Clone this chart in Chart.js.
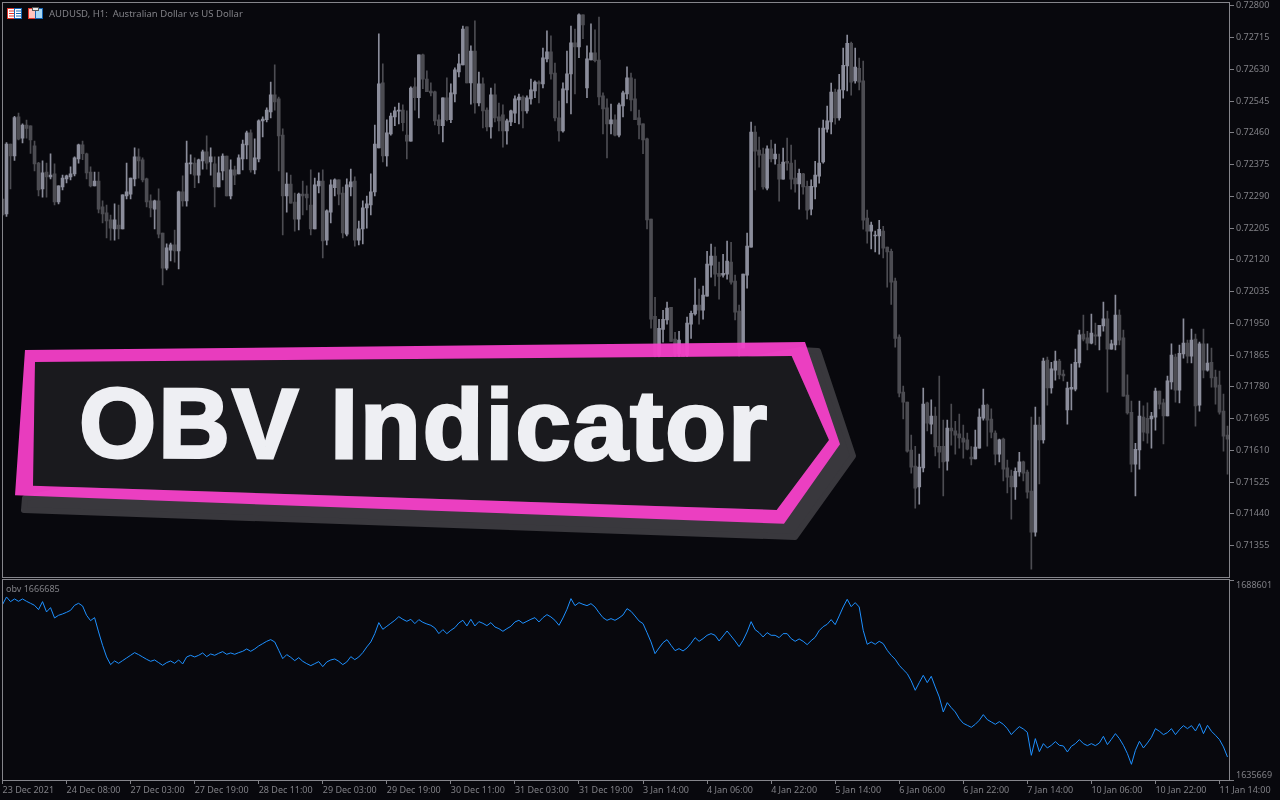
<!DOCTYPE html>
<html>
<head>
<meta charset="utf-8">
<title>AUDUSD H1 with OBV</title>
<script src="https://cdn.jsdelivr.net/npm/chart.js@4/dist/chart.umd.min.js"></script>
<style>
  html, body { margin: 0; padding: 0; background: #08080d; overflow: hidden; }
  #stage { position: relative; width: 1280px; height: 800px; background: #08080d; font-family: 'Noto Sans', sans-serif; }
  canvas { position: absolute; left: 0; }
  #chart-price { top: 0; }
  #chart-obv { top: 578px; }
  .frame { position: absolute; border: 1px solid #85858b; box-sizing: border-box; pointer-events: none; }
  #frame-price { left: 2px; top: 2px; width: 1228px; height: 576px; }
  #frame-obv { left: 2px; top: 579px; width: 1228px; height: 202px; }
  .caption { position: absolute; color: #808086; font-size: 9px; line-height: 11px; white-space: pre; }
  #caption-symbol { left: 49px; top: 8px; font-size: 9.5px; }
  #caption-obv { left: 6px; top: 583px; }
  svg { position: absolute; left: 0; top: 0; pointer-events: none; }
</style>
</head>
<body>
<div id="stage">
  <canvas id="chart-price" width="1280" height="578"></canvas>
  <canvas id="chart-obv" width="1280" height="222"></canvas>
  <div class="frame" id="frame-price"></div>
  <div class="frame" id="frame-obv"></div>
  <div class="caption" id="caption-symbol">AUDUSD, H1:  Australian Dollar vs US Dollar</div>
  <div class="caption" id="caption-obv">obv 1666685</div>
  <svg width="1280" height="800">
    <!-- toolbar icons -->
    <rect x="7.5" y="8.5" width="7" height="10" fill="#fff" stroke="#e0352b"/>
    <rect x="14.5" y="8.5" width="7" height="10" fill="#fff" stroke="#1464b4"/>
    <path d="M9 11h5M9 13.5h5M9 16h5" stroke="#e0352b"/>
    <path d="M16 11h5M16 13.5h5M16 16h5" stroke="#1464b4"/>
    <rect x="28.5" y="8.5" width="7" height="10" fill="#ffc4bd" stroke="#e0352b"/>
    <rect x="35.5" y="8.5" width="7" height="10" fill="#a8d8f5" stroke="#1464b4"/>
    <rect x="32.5" y="7.5" width="6" height="3" fill="#e8e8e8" stroke="#555"/>
    <!-- banner -->
    <path d="M25 498 L24 510 L795 537 L853 456 L818 351 L800 350 Z" fill="#39383d" stroke="#39383d" stroke-width="6" stroke-linejoin="round"/>
    <path d="M35 362 L791.7 356 L829 440 L776.7 510 L33 485.7 Z" fill="#1a1a1e"/>
    <path fill-rule="evenodd" fill="#f43fc8" fill-opacity="0.95" d="M25 350 L805 342 L840 444.3 L784 523.7 L15 495.3 Z M35 362 L791.7 356 L829 440 L776.7 510 L33 485.7 Z"/>
    <text x="79" y="457" transform="rotate(0.25 79 457)" font-family="'Liberation Sans', Arial, sans-serif" font-weight="700" font-size="99" letter-spacing="2.3" fill="#eeeff3" stroke="#eeeff3" stroke-width="3" stroke-linejoin="miter">OBV Indicator</text>
  </svg>
</div>
<script>
const BAR_UP   = '#8b8d9b'
const BAR_DOWN = '#4c4c52'
const OBV_LINE = '#1e90ff'
const TEXT     = '#808086'
const LAST_X   = 306.625
const TICK_EVERY = 16

// prices in points (1 point = 0.00001), one bar per hour.
// The bars around 3 Jan sit partly behind the banner, so their lower ends are guesses.
const open = [
  72283,72243,72430,72398,72503,72446,72481,72479,72425,72379,
  72310,72355,72342,72350,72275,72315,72337,72342,72350,72390,
  72428,72404,72355,72318,72331,72262,72246,72227,72203,72213,
  72203,72291,72296,72337,72396,72388,72337,72278,72256,72278,
  72192,72098,72146,72160,72144,72302,72278,72377,72379,72347,
  72385,72409,72382,72377,72315,72358,72398,72291,72361,72350,
  72390,72428,72460,72361,72390,72492,72495,72516,72562,72551,
  72454,72291,72323,72275,72229,72296,72296,72267,72203,72318,
  72331,72173,72248,72313,72334,72299,72189,72315,72331,72173,
  72203,72259,72267,72302,72420,72594,72398,72457,72503,72518,
  72521,72454,72438,72583,72554,72669,72604,72572,72570,72495,
  72479,72554,72495,72564,72623,72642,72744,72594,72679,72540,
  72591,72521,72476,72562,72503,72508,72465,72489,72513,72548,
  72556,72519,72551,72572,72596,72591,72658,72677,72620,72500,
  72465,72575,72618,72701,72690,72776,72580,72655,72674,72655,
  72559,72527,72484,72495,72454,72532,72564,72607,72551,72500,
  72484,72444,72229,71969,71865,71934,71959,71993,71908,71869,
  71887,71865,71948,71975,71999,71985,72023,72106,72130,72084,
  72079,72082,72114,72063,71983,71884,72079,72154,72462,72414,
  72403,72312,72417,72390,72376,72336,72384,72379,72339,72323,
  72350,72317,72256,72315,72344,72382,72470,72489,72569,72500,
  72575,72639,72700,72599,72633,72599,72232,72197,72184,72184,
  72197,72154,72143,72063,71913,71766,71739,71611,71568,71512,
  71563,71737,71680,71702,71621,71621,71581,71670,71662,71654,
  71643,71638,71592,71587,71616,71696,71731,71694,71656,71600,
  71640,71563,71541,71512,71552,71579,71552,71501,71391,71678,
  71638,71852,71777,71825,71849,71814,71718,71774,71774,71844,
  71921,71911,71897,71919,71916,71943,71962,71881,71892,71972,
  71911,71758,71712,71573,71611,71699,71696,71694,71699,71769,
  71737,71702,71793,71860,71771,71868,71897,71862,71908,71731,
  71895,71825,71846,71806,71785,71715,71651
]
const high = [
  72283,72434,72430,72504,72513,72484,72494,72479,72438,72381,
  72385,72379,72404,72377,72318,72347,72347,72369,72396,72430,
  72438,72406,72369,72355,72355,72278,72267,72240,72270,72267,
  72294,72379,72339,72420,72417,72393,72339,72294,72280,72310,
  72192,72163,72165,72200,72304,72345,72438,72401,72393,72390,
  72414,72452,72420,72396,72396,72404,72398,72388,72371,72401,
  72441,72465,72468,72444,72495,72503,72527,72596,72642,72556,
  72471,72353,72347,72299,72299,72331,72318,72361,72339,72353,
  72361,72254,72334,72337,72334,72315,72337,72363,72342,72224,
  72278,72291,72350,72481,72725,72645,72495,72513,72529,72540,
  72535,72519,72583,72607,72669,72671,72626,72594,72572,72508,
  72554,72607,72591,72634,72671,72746,72744,72693,72760,72623,
  72607,72527,72580,72591,72540,72535,72497,72521,72559,72564,
  72559,72559,72604,72599,72599,72687,72733,72720,72647,72545,
  72594,72679,72746,72738,72779,72776,72693,72752,72736,72770,
  72567,72551,72537,72508,72540,72572,72637,72620,72604,72521,
  72484,72446,72229,72020,71961,71985,72007,71993,71926,71929,
  71892,71967,71983,72071,72042,72050,72143,72162,72154,72114,
  72135,72170,72167,72079,71999,72082,72192,72489,72478,72449,
  72419,72425,72441,72430,72403,72419,72446,72427,72387,72363,
  72352,72331,72334,72384,72473,72494,72532,72593,72577,72617,
  72687,72722,72703,72687,72660,72652,72253,72221,72197,72226,
  72210,72154,72149,72071,71919,71782,71739,71651,71621,71600,
  71777,71739,71745,71726,71809,71691,71691,71734,71688,71707,
  71678,71656,71620,71664,71721,71774,71734,71721,71662,71640,
  71643,71584,71557,71563,71605,71581,71557,71699,71726,71699,
  71857,71860,71846,71876,71854,71825,71793,71841,71881,71932,
  71972,71929,71975,71951,71945,72007,71983,71905,72026,71986,
  71932,71812,71742,71629,71742,71729,71737,71712,71777,71769,
  71747,71809,71895,71868,71892,71962,71905,71935,71921,71900,
  71935,71895,71884,71825,71822,71761,71675
]
const low = [
  72240,72236,72310,72386,72441,72433,72446,72405,72358,72291,
  72288,72288,72337,72267,72270,72307,72326,72334,72345,72379,
  72388,72337,72315,72318,72246,72219,72179,72173,72173,72176,
  72203,72283,72283,72318,72339,72329,72262,72235,72203,72179,
  72053,72093,72117,72114,72096,72264,72264,72350,72313,72326,
  72363,72363,72347,72262,72315,72334,72291,72283,72321,72350,
  72361,72390,72355,72350,72382,72449,72489,72500,72521,72358,
  72187,72248,72272,72197,72200,72240,72254,72187,72203,72299,
  72125,72160,72219,72291,72267,72179,72184,72291,72157,72160,
  72163,72205,72240,72291,72420,72382,72371,72454,72479,72484,
  72465,72390,72438,72521,72500,72578,72570,72559,72481,72457,
  72436,72492,72487,72543,72610,72642,72594,72537,72513,72532,
  72473,72465,72446,72489,72465,72422,72430,72479,72487,72484,
  72473,72513,72537,72554,72540,72580,72650,72604,72492,72438,
  72462,72540,72511,72564,72661,72712,72554,72655,72650,72535,
  72457,72393,72457,72452,72449,72503,72551,72519,72495,72444,
  72404,72203,71937,71834,71834,71900,71948,71902,71834,71834,
  71825,71834,71910,71972,71948,71961,72023,72074,72050,72015,
  72074,72068,72055,71959,71860,71884,72044,72154,72307,72368,
  72309,72307,72382,72376,72277,72336,72360,72309,72301,72256,
  72296,72229,72240,72283,72325,72379,72462,72457,72483,72494,
  72553,72572,72561,72593,72575,72202,72165,72149,72141,72135,
  72125,72047,72001,71886,71753,71694,71605,71549,71455,71466,
  71552,71662,71654,71595,71563,71488,71557,71624,71600,71616,
  71589,71611,71571,71587,71616,71691,71621,71643,71571,71579,
  71528,71496,71426,71479,71541,71528,71482,71292,71380,71520,
  71629,71731,71763,71798,71801,71796,71680,71718,71769,71833,
  71903,71879,71895,71892,71879,71929,71766,71881,71879,71892,
  71755,71707,71552,71488,71560,71635,71629,71616,71664,71721,
  71627,71702,71774,71739,71737,71857,71844,71844,71675,71715,
  71804,71822,71779,71734,71707,71608,71546
]
const close = [
  72240,72430,72398,72501,72443,72481,72472,72441,72377,72307,
  72353,72342,72347,72275,72318,72339,72345,72350,72393,72428,
  72404,72353,72318,72331,72256,72243,72224,72205,72227,72203,
  72294,72302,72339,72396,72385,72334,72275,72259,72278,72189,
  72098,72152,72160,72144,72302,72278,72379,72379,72347,72388,
  72409,72379,72396,72315,72353,72398,72291,72361,72347,72393,
  72430,72460,72361,72393,72492,72497,72521,72562,72543,72452,
  72291,72323,72272,72229,72296,72291,72286,72203,72321,72331,
  72171,72251,72321,72334,72296,72192,72321,72329,72173,72203,
  72259,72270,72302,72430,72591,72398,72460,72505,72519,72521,
  72487,72438,72580,72554,72669,72604,72570,72567,72492,72479,
  72554,72495,72567,72629,72645,72738,72594,72679,72540,72591,
  72519,72476,72562,72500,72492,72465,72492,72519,72551,72556,
  72519,72554,72575,72596,72591,72661,72677,72618,72500,72465,
  72578,72618,72701,72690,72776,72749,72658,72674,72653,72556,
  72524,72484,72495,72454,72535,72567,72607,72548,72495,72481,
  72441,72227,71961,71865,71937,71961,71991,71902,71869,71905,
  71851,71951,71977,71999,71985,72026,72109,72130,72082,72076,
  72084,72117,72060,71980,71883,72082,72157,72462,72411,72400,
  72315,72417,72390,72403,72336,72382,72379,72336,72323,72352,
  72315,72253,72317,72347,72379,72473,72492,72569,72500,72575,
  72641,72700,72596,72636,72596,72226,72197,72213,72186,72202,
  72151,72141,72060,71910,71763,71739,71608,71565,71509,71565,
  71734,71683,71702,71619,71605,71579,71670,71662,71651,71643,
  71632,71613,71587,71619,71699,71731,71691,71659,71600,71638,
  71560,71538,71512,71554,71579,71549,71498,71391,71678,71638,
  71849,71777,71828,71849,71812,71809,71777,71779,71846,71919,
  71908,71897,71924,71916,71945,71962,71881,71895,71972,71905,
  71755,71710,71573,71613,71702,71659,71656,71702,71769,71734,
  71702,71796,71865,71771,71870,71897,71862,71905,71729,71895,
  71825,71844,71804,71779,71712,71648,71640
]
const obv = [
  1682082,1684111,1682876,1683581,1682964,1683581,1682964,1682435,1681905,1680758,
  1682876,1680141,1681288,1678553,1679259,1679611,1680053,1680582,1681905,1682435,
  1681729,1679259,1677847,1678641,1674848,1671319,1668231,1666202,1667172,1666555,
  1667261,1667966,1668672,1669378,1668849,1668231,1667614,1667084,1667437,1666731,
  1666026,1666731,1667172,1666555,1667437,1666378,1668231,1668672,1668231,1668672,
  1669290,1668319,1669025,1668672,1669202,1669643,1668937,1669290,1668937,1669378,
  1669731,1670348,1669731,1670348,1671142,1671760,1672377,1672819,1672201,1669995,
  1667790,1668849,1668143,1667261,1668055,1667084,1666467,1665937,1666467,1666996,
  1665673,1666908,1667437,1667702,1667084,1666202,1666908,1668319,1667525,1668231,
  1669378,1670878,1672201,1674406,1677318,1675553,1676347,1677141,1677935,1678906,
  1678200,1677671,1678200,1677053,1678112,1677406,1676965,1676612,1675906,1674406,
  1675465,1674406,1675289,1675994,1677230,1677935,1676436,1678200,1676436,1677582,
  1677141,1676524,1677318,1676171,1675730,1675024,1675730,1676347,1677494,1677935,
  1677141,1677671,1678200,1678641,1677494,1678641,1679435,1678817,1677935,1676612,
  1678553,1680847,1683670,1681817,1682611,1682170,1681817,1682346,1681464,1679964,
  1678641,1677935,1678376,1677935,1678553,1679347,1681023,1680317,1679082,1677759,
  1677053,1674671,1672201,1669113,1670613,1672025,1672819,1671319,1669907,1670437,
  1669819,1670613,1671848,1673348,1672377,1673083,1673965,1674406,1673965,1672466,
  1673789,1675112,1673789,1672466,1670966,1672642,1674848,1677582,1675465,1674671,
  1673524,1674671,1673965,1673965,1673348,1674406,1674406,1673083,1672377,1672995,
  1672377,1671495,1672554,1673436,1675200,1676259,1676877,1678112,1676788,1679082,
  1681464,1683493,1681552,1682611,1681464,1675289,1671583,1672201,1671583,1672377,
  1671760,1669995,1668672,1667614,1666026,1664879,1663820,1661879,1659409,1661438,
  1663379,1661438,1663114,1660291,1657645,1653675,1656145,1654822,1653675,1651910,
  1650675,1650146,1649617,1650411,1651469,1652969,1651646,1651028,1650411,1651116,
  1650411,1649264,1647676,1648823,1649793,1649176,1648293,1642206,1646617,1643177,
  1645294,1644147,1644853,1645823,1644853,1644676,1643088,1644588,1645294,1646353,
  1645294,1644765,1645294,1644765,1645470,1647235,1645029,1646441,1647940,1646617,
  1644853,1642647,1639824,1643529,1645911,1644147,1645470,1646970,1649264,1648558,
  1647676,1648205,1649264,1647676,1648999,1650058,1649264,1650058,1648646,1650587,
  1647940,1650146,1648558,1647499,1646353,1644412,1641765
]

const priceTicks = [72800,72715,72630,72545,72460,72375,72290,72205,72120,72035,71950,71865,71780,71695,71610,71525,71440,71355]
const priceMin = 71271
const priceMax = 72809
const obvMax = 1688601
const obvMin = 1635669
const timeLabels = [
  '23 Dec 2021','24 Dec 08:00','27 Dec 03:00','27 Dec 19:00','28 Dec 11:00','29 Dec 03:00','29 Dec 19:00',
  '30 Dec 11:00','31 Dec 03:00','31 Dec 19:00','3 Jan 14:00','4 Jan 06:00','4 Jan 22:00','5 Jan 14:00',
  '6 Jan 06:00','6 Jan 22:00','7 Jan 14:00','10 Jan 06:00','10 Jan 22:00','11 Jan 14:00'
]

const axisFont = { family: "'Noto Sans', sans-serif", size: 9, lineHeight: '10px' }
const barColors = open.map((o, i) => close[i] >= o ? BAR_UP : BAR_DOWN)

const baseOptions = (padding, scales) => ({
  responsive: false,
  animation: false,
  layout: { padding },
  plugins: { legend: { display: false }, tooltip: { enabled: false } },
  scales
})

// the layout would otherwise shrink the plot to make room for the end labels
const rightAxis = (min, max, ticks, format) => ({
  position: 'right',
  min,
  max,
  afterFit: s => { s.width = 50; s.paddingTop = 0; s.paddingBottom = 0 },
  afterBuildTicks: s => { s.ticks = ticks.map(value => ({ value })) },
  border: { display: false },
  grid: { drawOnChartArea: false, color: TEXT, tickLength: 4 },
  ticks: { color: TEXT, font: axisFont, padding: 2, autoSkip: false, callback: format }
})

new Chart(document.getElementById('chart-price'), {
  type: 'bar',
  data: {
    datasets: [
      {
        data: open.map((o, i) => ({ x: i, y: [o, close[i]] })),
        backgroundColor: barColors,
        barThickness: 3,
        minBarLength: 1,
        grouped: false,
        order: 1
      },
      {
        data: low.map((l, i) => ({ x: i, y: [l, high[i]] })),
        backgroundColor: barColors,
        barThickness: 1,
        grouped: false,
        order: 2
      }
    ]
  },
  options: baseOptions({ left: 2.5, top: 2.5, right: 0, bottom: 1 }, {
    x: { type: 'linear', display: false, offset: false, min: 0, max: LAST_X },
    y: rightAxis(priceMin, priceMax, priceTicks, v => (v / 100000).toFixed(5))
  })
})

new Chart(document.getElementById('chart-obv'), {
  type: 'line',
  data: {
    datasets: [{
      data: obv.map((v, i) => ({ x: i, y: v })),
      borderColor: OBV_LINE,
      borderWidth: 1,
      pointRadius: 0,
      tension: 0
    }]
  },
  options: baseOptions({ left: 2.5, top: 2, right: 0, bottom: 0 }, {
    x: {
      type: 'linear',
      offset: false,
      min: 0,
      max: LAST_X,
      afterFit: s => { s.height = 20; s.paddingLeft = 0; s.paddingRight = 0 },
      afterBuildTicks: s => { s.ticks = timeLabels.map((_, i) => ({ value: i * TICK_EVERY })) },
      border: { display: false },
      grid: { drawOnChartArea: false, color: TEXT, tickLength: 4 },
      ticks: {
        color: TEXT,
        font: axisFont,
        padding: 1,
        align: 'start',
        maxRotation: 0,
        autoSkip: false,
        callback: v => timeLabels[v / TICK_EVERY]
      }
    },
    // blank line pushes the two end labels inside the pane, as the terminal does
    y: rightAxis(obvMin, obvMax, [obvMax, obvMin], v => v === obvMax ? ['', String(v)] : [String(v), ''])
  })
})
</script>
</body>
</html>
